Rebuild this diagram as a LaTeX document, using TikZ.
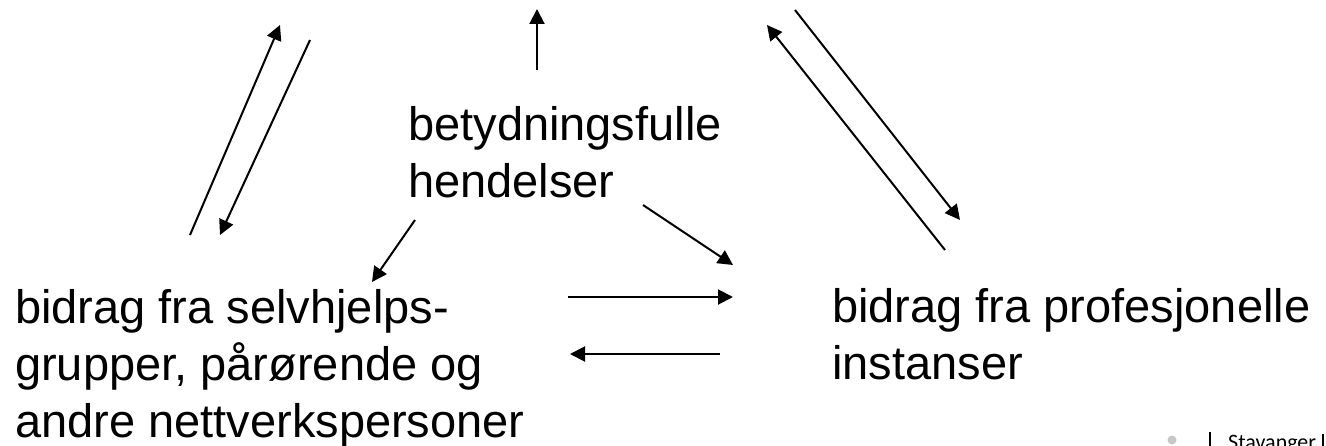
\documentclass[tikz,border=0pt]{standalone}
\usepackage{fontspec}
\setmainfont{Liberation Sans}
\newfontfamily\footfont{Carlito}
\usetikzlibrary{arrows.meta}
\tikzset{
  conn/.style={line width=2pt,-{Triangle[length=15pt,width=15pt]}},
  label/.style={align=left,inner sep=0pt,anchor=base west,font=\fontsize{47}{57}\selectfont},
}
\begin{document}
\begin{tikzpicture}[x=1pt,y=-1pt]
\useasboundingbox (0,0) rectangle (1326,446);
\clip (0,0) rectangle (1326,446);
% text nodes (anchored at the baseline of their last line)
\node[label] (events) at (408,198) {betydningsfulle\\hendelser};
\node[label] (self) at (15,437) {bidrag fra selvhjelps-\\grupper, pårørende og\\andre nettverkspersoner};
\node[label] (prof) at (832,380) {bidrag fra profesjonelle\\instanser};
% connector end points
\coordinate (l1s) at (190,235); \coordinate (l1e) at (280,25);
\coordinate (l2s) at (310,40);  \coordinate (l2e) at (220,235);
\coordinate (ups) at (537,70);  \coordinate (upe) at (537,9);
\coordinate (r1s) at (795,10);  \coordinate (r1e) at (960,220);
\coordinate (r2s) at (945,250); \coordinate (r2e) at (767,25);
\coordinate (d1s) at (415,220); \coordinate (d1e) at (372,282);
\coordinate (d2s) at (643,205); \coordinate (d2e) at (733,265);
\coordinate (h1s) at (568,297); \coordinate (h1e) at (733,297);
\coordinate (h2s) at (720,354); \coordinate (h2e) at (570,354);
% connectors
\draw[conn] (l1s) -- (l1e);
\draw[conn] (l2s) -- (l2e);
\draw[conn] (ups) -- (upe);
\draw[conn] (r1s) -- (r1e);
\draw[conn] (r2s) -- (r2e);
\draw[conn] (d1s) -- (d1e);
\draw[conn] (d2s) -- (d2e);
\draw[conn] (h1s) -- (h1e);
\draw[conn] (h2s) -- (h2e);
% footer
\fill[black!22] (1172,440) circle (4.5);
\draw[line width=1.5pt] (1210,432) -- (1210,446);
\node[inner sep=0pt,anchor=base west,font=\footfont\fontsize{22}{26}\selectfont] (logo) at (1228,449) {Stavanger};
\draw[line width=1.5pt] (1323,434) -- (1323,446);
\end{tikzpicture}
\end{document}
